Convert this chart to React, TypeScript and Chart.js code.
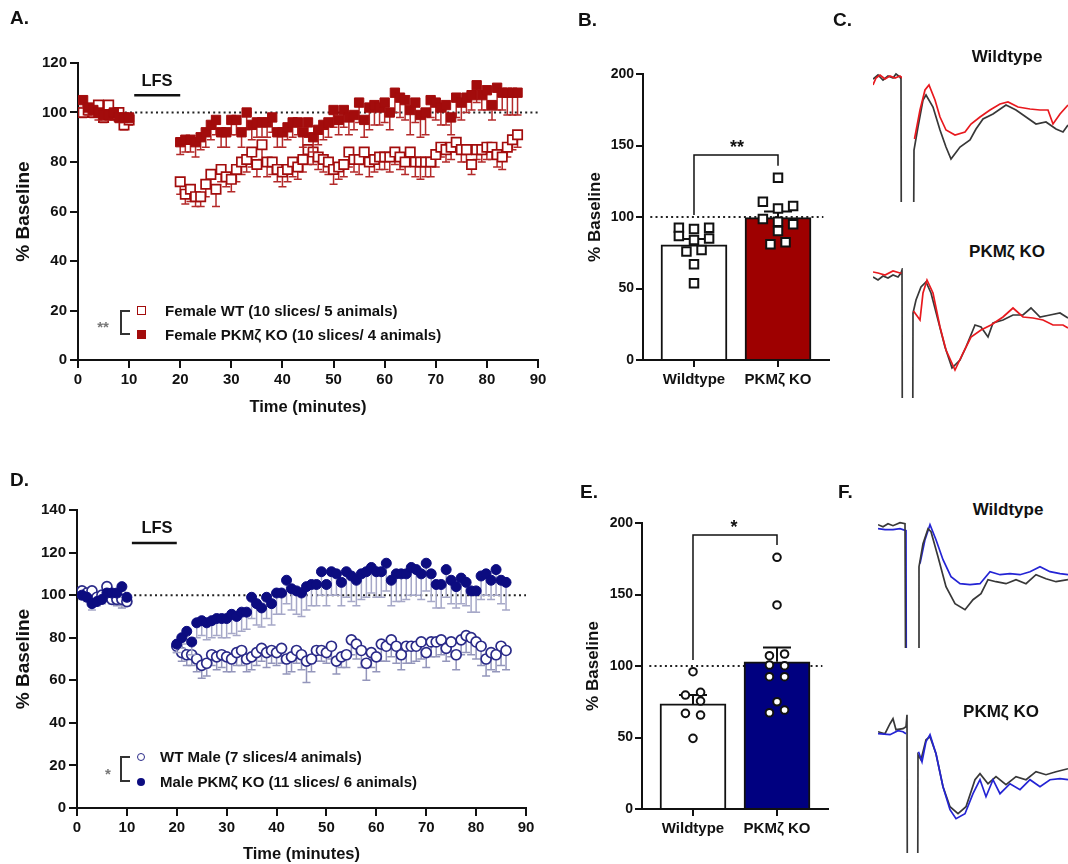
import React, { useEffect, useRef } from 'react';
import { Chart, registerables } from 'chart.js';

Chart.register(...registerables);

const FONT = '"Liberation Sans", Arial, Helvetica, sans-serif';
const INK = '#111111';
const RED = '#a30c0c';
const RED_ERR = '#b42a2a';
const RED_BAR = '#9e0000';
const NAVY = '#0c0c80';
const NAVY_OPEN = '#2a2a88';
const NAVY_BAR = '#000080';

// ---------------- Time-course data (panels A and D) ----------------
const minutes = [1, 2, 3, 4, 5, 6, 7, 8, 9, 10,
  20, 21, 22, 23, 24, 25, 26, 27, 28, 29, 30, 31, 32, 33, 34, 35, 36, 37, 38, 39,
  40, 41, 42, 43, 44, 45, 46, 47, 48, 49, 50, 51, 52, 53, 54, 55, 56, 57, 58, 59,
  60, 61, 62, 63, 64, 65, 66, 67, 68, 69, 70, 71, 72, 73, 74, 75, 76, 77, 78, 79,
  80, 81, 82, 83, 84, 85, 86];

const femaleWT = [100, 101, 100, 103, 98, 103, 99, 100, 95, 97,
  72, 67, 69, 66, 66, 71, 75, 69, 77, 74, 73, 77, 80, 81, 84, 79, 87, 80, 80, 77,
  76, 77, 80, 78, 81, 85, 84, 82, 81, 80, 77, 78, 79, 84, 81, 81, 84, 80, 81, 82,
  82, 82, 84, 82, 80, 84, 80, 80, 80, 80, 83, 86, 85, 86, 88, 85, 85, 79, 85, 85,
  86, 86, 83, 82, 86, 89, 91];
const femaleWTErr = [2, 2, 2, 2, 2, 2, 2, 2, 2, 2,
  5, 4, 5, 4, 4, 5, 5, 7, 5, 4, 5, 5, 5, 5, 6, 5, 6, 6, 5, 5,
  6, 5, 6, 5, 5, 6, 5, 5, 5, 5, 6, 5, 5, 6, 5, 6, 5, 6, 5, 5,
  5, 6, 5, 5, 5, 5, 6, 7, 6, 6, 5, 4, 5, 5, 4, 5, 5, 4, 4, 5,
  5, 5, 5, 5, 4, 4, 5];
const femaleKO = [105, 102, 101, 100, 99, 99, 100, 98, 98, 98,
  88, 89, 89, 88, 90, 92, 95, 97, 92, 92, 97, 97, 92, 100, 95, 96, 96, 96, 98, 92,
  92, 94, 96, 96, 92, 96, 90, 93, 95, 96, 101, 97, 101, 98, 99, 104, 97, 102, 103, 102,
  104, 100, 108, 106, 105, 101, 104, 99, 100, 105, 104, 102, 103, 98, 106, 104, 106, 107, 111, 107,
  109, 103, 110, 108, 108, 108, 108];
const femaleKOErr = [3, 3, 2, 3, 2, 2, 2, 2, 2, 2,
  5, 5, 5, 6, 5, 6, 6, 6, 6, 6, 6, 6, 6, 7, 6, 6, 6, 6, 6, 6,
  6, 5, 6, 5, 6, 6, 6, 6, 6, 6, 7, 6, 7, 7, 6, 8, 7, 9, 8, 7,
  8, 7, 8, 8, 8, 10, 8, 9, 9, 7, 7, 7, 8, 7, 8, 7, 6, 6, 7, 6,
  8, 6, 9, 7, 9, 9, 9];

const maleWT = [102, 101, 102, 99, 100, 104, 98, 98, 98, 97,
  76, 73, 72, 72, 70, 67, 68, 72, 71, 72, 71, 70, 73, 74, 70, 71, 73, 75, 73, 74,
  73, 75, 70, 71, 74, 72, 69, 70, 74, 74, 73, 76, 69, 71, 72, 79, 77, 74, 68, 73,
  71, 77, 76, 79, 76, 72, 76, 76, 76, 78, 73, 78, 78, 79, 75, 78, 72, 79, 81, 80,
  78, 76, 70, 73, 72, 76, 74];
const maleWTErr = [2, 2, 2, 2, 2, 2, 2, 3, 4, 2,
  3, 4, 5, 5, 6, 6, 6, 5, 6, 6, 7, 6, 6, 7, 6, 6, 6, 6, 7, 6,
  6, 7, 7, 7, 6, 7, 10, 6, 5, 5, 5, 6, 6, 5, 6, 7, 7, 8, 8, 7,
  7, 8, 7, 8, 8, 7, 8, 8, 7, 8, 7, 7, 7, 7, 6, 7, 7, 7, 8, 8,
  8, 9, 8, 8, 8, 9, 9];
const maleKO = [100, 99, 96, 97, 98, 101, 101, 101, 104, 99,
  77, 80, 83, 78, 87, 88, 87, 88, 89, 89, 89, 91, 90, 92, 92, 99, 96, 94, 99, 96,
  101, 101, 107, 103, 102, 101, 104, 105, 105, 111, 105, 111, 110, 106, 111, 109, 107, 110, 111, 113,
  111, 111, 115, 107, 110, 110, 110, 113, 112, 110, 115, 110, 105, 105, 112, 107, 104, 108, 106, 102,
  102, 109, 110, 107, 112, 107, 106];
const maleKOErr = [2, 2, 3, 2, 2, 2, 2, 2, 2, 2,
  4, 5, 6, 6, 7, 7, 8, 8, 8, 9, 9, 9, 9, 9, 8, 10, 10, 9, 10, 10,
  10, 10, 11, 10, 11, 11, 11, 10, 10, 11, 10, 11, 10, 11, 12, 12, 12, 12, 12, 12,
  12, 12, 13, 12, 13, 13, 12, 13, 12, 12, 13, 13, 11, 11, 13, 11, 10, 12, 11, 10,
  10, 11, 10, 9, 12, 11, 13];

const timeTicks = [0, 10, 20, 30, 40, 50, 60, 70, 80, 90];
const femaleYTicks = [0, 20, 40, 60, 80, 100, 120];
const maleYTicks = [0, 20, 40, 60, 80, 100, 120, 140];
const baselineLevel = 100;
const lfsSpan = [11, 20];
const lfsLevelFemale = 107;
const lfsLevelMale = 124.5;
const femaleLegend = ['Female WT (10 slices/ 5 animals)', 'Female PKMζ KO (10 slices/ 4 animals)'];
const maleLegend = ['WT Male (7 slices/4 animals)', 'Male PKMζ KO (11 slices/ 6 animals)'];

// ---------------- Bar summaries (panels B and E) ----------------
const barCategories = ['Wildtype', 'PKMζ KO'];
const barTicks = [0, 50, 100, 150, 200];
const femaleMeans = [80.5, 99.6];
const femaleSem = [4.2, 4.2];
const femaleWTPoints = [92.5, 91.6, 92.5, 86.7, 83.9, 85, 75.8, 76.9, 66.9, 53.6];
const femaleWTJitter = [-0.18, 0, 0.18, -0.18, 0, 0.18, -0.09, 0.09, 0, 0];
const femaleKOPoints = [127.5, 110.7, 106, 107.7, 98.6, 96.7, 94.9, 90.2, 80.9, 82.3];
const femaleKOJitter = [0, -0.18, 0, 0.18, -0.18, 0, 0.18, 0, -0.09, 0.09];
const femaleBracket = [101.4, 143.4, 135.9];

const maleMeans = [73.5, 102.9];
const maleSem = [6.2, 10.1];
const maleWTPoints = [96, 79.7, 81.6, 75.5, 66.9, 65.7, 49.4];
const maleWTJitter = [0, -0.09, 0.09, 0.09, -0.09, 0.09, 0];
const maleKOPoints = [176, 142.7, 107.2, 108.4, 100.7, 100.2, 92.5, 92.5, 67.3, 75, 69.2];
const maleKOJitter = [0, 0, -0.09, 0.09, -0.09, 0.09, -0.09, 0.09, -0.09, 0, 0.09];
const maleBracket = [104.2, 191.6, 184.6];
const barRefSpan = [-0.52, 1.54];

// ---------------- Example traces (panels C and F): [ms, mV]; null = off-scale stimulus artifact ----------------
const cWildtypeBaseline = [[0, -0.02], [0.5, 0.02], [1, -0.03], [1.5, 0.01], [2, -0.01], [2.3, 0.03], [2.7, 0], [2.8, -0.02], [2.9, -5], [3.9, -5], [4.1, -0.73], [4.5, -0.5], [5, -0.23], [5.3, -0.18], [6, -0.3], [6.7, -0.53], [7.3, -0.7], [7.8, -0.82], [8.7, -0.7], [9.7, -0.63], [10.3, -0.52], [11, -0.42], [12, -0.37], [13.3, -0.28], [14.3, -0.33], [15.3, -0.4], [16.3, -0.47], [17.3, -0.45], [18.3, -0.52], [19, -0.55], [19.5, -0.48]];
const cWildtypePost = [[0, -0.08], [0.3, -0.01], [0.7, 0.02], [1.2, -0.02], [1.7, 0.01], [2.2, -0.01], [2.7, 0.01], [2.8, 0], [3.4, null], [4.15, -0.62], [4.7, -0.33], [5.2, -0.13], [5.6, -0.08], [6.2, -0.23], [6.7, -0.4], [7.3, -0.53], [8.2, -0.58], [9.2, -0.55], [9.8, -0.47], [10.7, -0.4], [11.7, -0.33], [12.7, -0.27], [13.5, -0.25], [14.5, -0.3], [15.7, -0.32], [16.7, -0.33], [17.5, -0.33], [18, -0.47], [18.7, -0.37], [19.5, -0.28]];
const cKOBaseline = [[0, -0.02], [0.5, -0.05], [1, -0.01], [1.5, -0.03], [2, 0], [2.5, -0.02], [2.8, 0.02], [2.9, 0.05], [3, -5], [3.9, -5], [4, -0.38], [4.3, -0.25], [4.8, -0.12], [5.3, -0.07], [5.8, -0.18], [6.5, -0.45], [7.2, -0.72], [7.9, -0.93], [8.7, -0.85], [9.3, -0.72], [10.2, -0.5], [10.8, -0.52], [11.5, -0.62], [12, -0.48], [13, -0.45], [14, -0.4], [15, -0.4], [15.8, -0.33], [16.7, -0.42], [17.7, -0.4], [18.7, -0.38], [19.5, -0.43]];
const cKOPost = [[0, 0.03], [0.5, 0.02], [1.2, 0], [2, 0.04], [2.7, 0.02], [2.85, 0.02], [3.4, null], [4.05, -0.36], [4.7, -0.45], [5, -0.18], [5.4, -0.05], [6, -0.18], [6.7, -0.52], [7.3, -0.75], [8.2, -0.95], [9, -0.78], [9.8, -0.62], [10.8, -0.55], [11.8, -0.5], [13, -0.42], [14, -0.33], [15, -0.42], [16, -0.43], [17, -0.45], [18, -0.5], [19, -0.5], [19.5, -0.53]];
const fWildtypeBaseline = [[0, 0.02], [0.5, 0], [1, 0.03], [1.5, 0.01], [2.2, 0.04], [2.7, 0.03], [2.8, 0.03], [2.9, -5], [4, -5], [4.1, -0.4], [4.5, -0.17], [5, -0.02], [5.3, -0.05], [6, -0.3], [6.8, -0.6], [7.7, -0.77], [8.7, -0.83], [9.5, -0.73], [10.3, -0.67], [11, -0.53], [11.8, -0.55], [12.8, -0.57], [13.8, -0.53], [14.8, -0.57], [15.8, -0.48], [16.8, -0.52], [17.8, -0.55], [19, -0.53]];
const fWildtypePost = [[0, -0.02], [0.7, -0.03], [1.5, -0.03], [2.2, -0.02], [2.8, -0.04], [2.9, -5], [3.5, null], [4.2, -0.37], [4.7, -0.13], [5.2, 0.02], [5.8, -0.13], [6.5, -0.33], [7.3, -0.5], [8.2, -0.57], [9.2, -0.58], [10.2, -0.57], [11.2, -0.45], [12.2, -0.48], [13.2, -0.47], [14.2, -0.48], [15.2, -0.45], [16.2, -0.4], [17.2, -0.45], [18.2, -0.47], [19, -0.48]];
const fKOBaseline = [[0, 0], [0.7, -0.02], [1.2, 0.08], [1.5, 0.13], [1.8, 0.02], [2.5, 0.03], [2.8, 0.05], [2.9, 0.17], [3, -5], [3.9, -5], [4, -0.23], [4.3, -0.28], [4.8, -0.08], [5.2, -0.05], [5.8, -0.22], [6.5, -0.55], [7.2, -0.75], [8, -0.82], [8.8, -0.75], [9.7, -0.48], [10.2, -0.42], [11, -0.52], [11.8, -0.45], [12.8, -0.53], [13.8, -0.45], [14.8, -0.48], [15.8, -0.4], [16.8, -0.43], [17.8, -0.4], [19, -0.37]];
const fKOPost = [[0, -0.02], [1.2, -0.03], [2, 0.01], [2.5, 0], [2.8, -0.02], [3.4, null], [4.05, -0.2], [4.4, -0.3], [4.8, -0.1], [5.2, -0.03], [5.8, -0.22], [6.5, -0.55], [7.2, -0.78], [7.8, -0.87], [8.7, -0.82], [9.5, -0.62], [10.2, -0.48], [10.8, -0.65], [11.5, -0.48], [12.2, -0.62], [13.2, -0.52], [14.2, -0.58], [15.2, -0.48], [16.2, -0.55], [17.2, -0.48], [18.2, -0.47], [19, -0.48]];

// ---------------- helpers ----------------
type XY = { x: number; y: number | null };
const toXY = (xs: number[], ys: number[]): XY[] => xs.map((x, i) => ({ x, y: ys[i] }));
const jitterXY = (cat: number, jit: number[], ys: number[]): XY[] => ys.map((y, i) => ({ x: cat + jit[i], y }));
const pairs = (p: (number | null)[][]): XY[] => p.map(([x, y]) => ({ x: x as number, y }));
const bold = (size: number) => ({ family: FONT, size, weight: 'bold' as const });

function drawErr(chart: any, ds: any, dir: number) {
  const xs = chart.scales.x;
  const ys = chart.scales.y;
  const ctx = chart.ctx;
  const errs = dir < 0 ? ds.errDown : ds.errUp;
  ctx.save();
  ctx.strokeStyle = ds.errColor || INK;
  ctx.lineWidth = ds.errWidth || 1.5;
  ds.data.forEach((p: any, i: number) => {
    const px = xs.getPixelForValue(p.x);
    const y0 = ys.getPixelForValue(p.y);
    const y1 = ys.getPixelForValue(p.y + dir * errs[i]);
    ctx.beginPath();
    ctx.moveTo(px, y0);
    ctx.lineTo(px, y1);
    ctx.moveTo(px - ds.errCap, y1);
    ctx.lineTo(px + ds.errCap, y1);
    ctx.stroke();
  });
  ctx.restore();
}

const errorBarPlugin = {
  id: 'errorBars',
  beforeDatasetDraw(chart: any, args: any) {
    const ds = chart.data.datasets[args.index];
    if (ds.errDown) drawErr(chart, ds, -1);
  },
  afterDatasetDraw(chart: any, args: any) {
    const ds = chart.data.datasets[args.index];
    if (ds.errUp) drawErr(chart, ds, 1);
  },
};

const annotPlugin = {
  id: 'annot',
  afterDatasetsDraw(chart: any, _args: any, opts: any) {
    const xs = chart.scales.x;
    const ys = chart.scales.y;
    const ctx = chart.ctx;
    ctx.save();
    ctx.strokeStyle = INK;
    if (opts && opts.lfs) {
      ctx.lineWidth = 2.6;
      const yy = ys.getPixelForValue(opts.lfs.level);
      ctx.beginPath();
      ctx.moveTo(xs.getPixelForValue(opts.lfs.span[0]), yy);
      ctx.lineTo(xs.getPixelForValue(opts.lfs.span[1]), yy);
      ctx.stroke();
    }
    if (opts && opts.bracket) {
      const lv = opts.bracket.levels;
      const x0 = xs.getPixelForValue(0);
      const x1 = xs.getPixelForValue(1);
      ctx.lineWidth = 1.5;
      ctx.beginPath();
      ctx.moveTo(x0, ys.getPixelForValue(lv[0]));
      ctx.lineTo(x0, ys.getPixelForValue(lv[1]));
      ctx.lineTo(x1, ys.getPixelForValue(lv[1]));
      ctx.lineTo(x1, ys.getPixelForValue(lv[2]));
      ctx.stroke();
    }
    ctx.restore();
  },
};

const axisGrid = { drawOnChartArea: false, drawTicks: true, color: INK, lineWidth: 2, offset: false };
const axisBorder = { display: true, color: INK, width: 2 };

function refLine(x0: number, x1: number, order: number) {
  return {
    type: 'line',
    data: [{ x: x0, y: baselineLevel }, { x: x1, y: baselineLevel }],
    borderColor: '#222',
    borderWidth: 2,
    borderDash: [2, 3.2],
    pointRadius: 0,
    order,
  };
}

function timeCourseConfig(p: any) {
  return {
    type: 'scatter',
    data: {
      datasets: [
        {
          label: p.labels[1], data: toXY(minutes, p.ko), errDown: p.koErr, errColor: p.koErrColor, errCap: 4, errWidth: 1.5,
          pointStyle: p.style, pointRadius: p.radius, backgroundColor: p.color, borderColor: p.color, borderWidth: 1, order: 0,
        },
        {
          label: p.labels[0], data: toXY(minutes, p.wt), errDown: p.wtErr, errColor: p.wtErrColor, errCap: 4, errWidth: 1.5,
          pointStyle: p.style, pointRadius: p.radius, backgroundColor: '#ffffff', borderColor: p.openColor, borderWidth: 1.7, order: 1,
        },
        refLine(0, 90, 5),
      ],
    },
    plugins: [errorBarPlugin, annotPlugin],
    options: {
      responsive: false, animation: false, devicePixelRatio: 1, events: [],
      layout: { padding: { left: 0, right: p.padRight, top: p.padTop, bottom: 0 } },
      plugins: { legend: { display: false }, tooltip: { enabled: false }, annot: { lfs: { span: lfsSpan, level: p.lfsLevel } } },
      scales: {
        x: {
          type: 'linear', min: 0, max: 90, offset: false,
          afterBuildTicks: (s: any) => { s.ticks = timeTicks.map((v) => ({ value: v })); },
          ticks: { font: bold(15), color: INK, padding: 3, autoSkip: false, maxRotation: 0 },
          grid: { ...axisGrid, tickLength: 8 }, border: axisBorder,
          title: { display: true, text: 'Time (minutes)', font: bold(16.5), color: INK, padding: { top: 0, bottom: p.xTitlePad } },
          afterFit: (s: any) => { s.height = p.xHeight; },
        },
        y: {
          type: 'linear', min: 0, max: p.yMax,
          afterBuildTicks: (s: any) => { s.ticks = p.yTicks.map((v: number) => ({ value: v })); },
          ticks: { font: bold(15), color: INK, padding: 3, autoSkip: false },
          grid: { ...axisGrid, tickLength: 8 }, border: axisBorder,
          title: { display: true, text: '% Baseline', font: bold(19), color: INK, padding: { top: 12.5, bottom: 0 } },
          afterFit: (s: any) => { s.width = p.yWidth; },
        },
      },
    },
  };
}

function barConfig(p: any) {
  return {
    type: 'bar',
    data: {
      datasets: [
        {
          type: 'bar', data: toXY([0, 1], p.means), backgroundColor: ['#ffffff', p.fill], borderColor: INK, borderWidth: 2,
          barThickness: 66, errUp: p.sem, errCap: 14, errWidth: 2, errColor: INK, order: 2,
        },
        {
          type: 'scatter', data: jitterXY(0, p.wtJit, p.wtPts), pointStyle: p.style, pointRadius: p.radius,
          backgroundColor: '#ffffff', borderColor: INK, borderWidth: 2, order: 0,
        },
        {
          type: 'scatter', data: jitterXY(1, p.koJit, p.koPts), pointStyle: p.style, pointRadius: p.radius,
          backgroundColor: '#ffffff', borderColor: INK, borderWidth: 2, order: 0,
        },
        refLine(barRefSpan[0], barRefSpan[1], p.refOrder),
      ],
    },
    plugins: [errorBarPlugin, annotPlugin],
    options: {
      responsive: false, animation: false, devicePixelRatio: 1, events: [],
      layout: { padding: { left: 0, right: p.padRight, top: p.padTop, bottom: 0 } },
      plugins: { legend: { display: false }, tooltip: { enabled: false }, annot: { bracket: { levels: p.bracket } } },
      scales: {
        x: {
          type: 'linear', min: -0.607, max: 1.607, offset: false,
          afterBuildTicks: (s: any) => { s.ticks = [{ value: 0 }, { value: 1 }]; },
          ticks: { font: bold(15), color: INK, padding: 4, autoSkip: false, maxRotation: 0, callback: (_v: any, i: number) => barCategories[i] },
          grid: { ...axisGrid, tickLength: 7 }, border: axisBorder,
          afterFit: (s: any) => { s.height = p.xHeight; },
        },
        y: {
          type: 'linear', min: 0, max: 200,
          afterBuildTicks: (s: any) => { s.ticks = barTicks.map((v) => ({ value: v })); },
          ticks: { font: bold(14), color: INK, padding: 2, autoSkip: false },
          grid: { ...axisGrid, tickLength: 7 }, border: axisBorder,
          title: { display: true, text: '% Baseline', font: bold(17), color: INK, padding: { top: p.yTitlePad, bottom: 0 } },
          afterFit: (s: any) => { s.width = p.yWidth; },
        },
      },
    },
  };
}

function traceConfig(series: { pts: (number | null)[][]; color: string; label: string }[], xMax: number, yMin: number, yMax: number) {
  return {
    type: 'line',
    data: {
      datasets: series.map((s) => ({
        label: s.label, data: pairs(s.pts), borderColor: s.color, borderWidth: 1.7, pointRadius: 0, tension: 0, spanGaps: false,
      })),
    },
    options: {
      responsive: false, animation: false, devicePixelRatio: 1, events: [],
      layout: { padding: 0 },
      plugins: { legend: { display: false }, tooltip: { enabled: false } },
      scales: {
        x: { type: 'linear', min: 0, max: xMax, display: false },
        y: { type: 'linear', min: yMin, max: yMax, display: false },
      },
    },
  };
}

function ChartBox({ left, top, width, height, make }: any) {
  const ref = useRef<HTMLCanvasElement>(null);
  useEffect(() => {
    const chart = new Chart(ref.current as HTMLCanvasElement, make());
    return () => chart.destroy();
  }, []);
  return <canvas ref={ref} width={width} height={height} style={{ position: 'absolute', left, top, width, height }} />;
}

function T({ x, y, size, children, anchor = 'middle', color = INK }: any) {
  return (
    <div
      style={{
        position: 'absolute', left: x, top: y, transform: anchor === 'middle' ? 'translate(-50%, -50%)' : 'translate(0, -50%)',
        fontFamily: FONT, fontWeight: 700, fontSize: size, lineHeight: 1.2, color, whiteSpace: 'nowrap',
      }}
    >
      {children}
    </div>
  );
}

function Box({ x, y, w, h, style }: any) {
  return <div style={{ position: 'absolute', left: x, top: y, width: w, height: h, boxSizing: 'border-box', ...style }} />;
}

export default function App() {
  return (
    <div style={{ position: 'absolute', left: 0, top: 0, width: 1068, height: 864, background: '#ffffff', overflow: 'hidden' }}>
      {/* Panel A */}
      <ChartBox left={0} top={0} width={560} height={430} make={() => timeCourseConfig({
        wt: femaleWT, wtErr: femaleWTErr, ko: femaleKO, koErr: femaleKOErr, labels: femaleLegend,
        color: RED, openColor: RED, koErrColor: RED_ERR, wtErrColor: RED_ERR, style: 'rect', radius: 6.6,
        padRight: 22, padTop: 63, xHeight: 70, xTitlePad: 13, yWidth: 78, yMax: 120, yTicks: femaleYTicks, lfsLevel: lfsLevelFemale,
      })} />
      {/* Panel D */}
      <ChartBox left={0} top={440} width={560} height={424} make={() => timeCourseConfig({
        wt: maleWT, wtErr: maleWTErr, ko: maleKO, koErr: maleKOErr, labels: maleLegend,
        color: NAVY, openColor: NAVY_OPEN, koErrColor: '#a6a8c8', wtErrColor: '#9496bb', style: 'circle', radius: 5,
        padRight: 34, padTop: 70, xHeight: 56, xTitlePad: 0, yWidth: 77, yMax: 140, yTicks: maleYTicks, lfsLevel: lfsLevelMale,
      })} />
      {/* Panel B */}
      <ChartBox left={560} top={0} width={290} height={420} make={() => barConfig({
        means: femaleMeans, sem: femaleSem, fill: RED_BAR, wtPts: femaleWTPoints, wtJit: femaleWTJitter,
        koPts: femaleKOPoints, koJit: femaleKOJitter, style: 'rect', radius: 6, bracket: femaleBracket, refOrder: 1,
        padRight: 21, padTop: 74, xHeight: 60, yWidth: 83, yTitlePad: 25,
      })} />
      {/* Panel E */}
      <ChartBox left={560} top={440} width={290} height={424} make={() => barConfig({
        means: maleMeans, sem: maleSem, fill: NAVY_BAR, wtPts: maleWTPoints, wtJit: maleWTJitter,
        koPts: maleKOPoints, koJit: maleKOJitter, style: 'circle', radius: 3.8, bracket: maleBracket, refOrder: 3,
        padRight: 22, padTop: 83, xHeight: 55, yWidth: 82, yTitlePad: 23,
      })} />
      {/* Panel C traces */}
      <ChartBox left={873} top={65} width={195} height={137} make={() => traceConfig([
        { pts: cWildtypePost, color: '#e8191e', label: 'Wildtype post-LFS' },
        { pts: cWildtypeBaseline, color: '#383838', label: 'Wildtype baseline' },
      ], 19.5, -1.25, 0.12)} />
      <ChartBox left={873} top={268} width={195} height={130} make={() => traceConfig([
        { pts: cKOPost, color: '#e8191e', label: 'PKMζ KO post-LFS' },
        { pts: cKOBaseline, color: '#383838', label: 'PKMζ KO baseline' },
      ], 19.5, -1.23, 0.07)} />
      {/* Panel F traces */}
      <ChartBox left={878} top={520} width={190} height={128} make={() => traceConfig([
        { pts: fWildtypeBaseline, color: '#383838', label: 'Wildtype baseline' },
        { pts: fWildtypePost, color: '#2424d4', label: 'Wildtype post-LFS' },
      ], 19.0, -1.213, 0.067)} />
      <ChartBox left={878} top={713} width={190} height={140} make={() => traceConfig([
        { pts: fKOPost, color: '#2424d4', label: 'PKMζ KO post-LFS' },
        { pts: fKOBaseline, color: '#383838', label: 'PKMζ KO baseline' },
      ], 19.0, -1.213, 0.187)} />

      {/* Panel letters */}
      <T x={10} y={18} size={19} anchor="start">A.</T>
      <T x={578} y={20} size={19} anchor="start">B.</T>
      <T x={833} y={20} size={19} anchor="start">C.</T>
      <T x={10} y={480} size={19} anchor="start">D.</T>
      <T x={580} y={492} size={19} anchor="start">E.</T>
      <T x={838} y={492} size={19} anchor="start">F.</T>

      {/* LFS labels */}
      <T x={157} y={81} size={16.5}>LFS</T>
      <T x={157} y={528} size={16.5}>LFS</T>

      {/* Legend A */}
      <Box x={137} y={306} w={9} h={9} style={{ border: `1.6px solid ${RED}`, background: '#fff' }} />
      <T x={165} y={311} size={15} anchor="start">{femaleLegend[0]}</T>
      <Box x={137} y={330} w={9} h={9} style={{ background: RED }} />
      <T x={165} y={335} size={15} anchor="start">{femaleLegend[1]}</T>
      <Box x={120} y={310} w={10} h={25} style={{ borderLeft: '2px solid #333', borderTop: '2px solid #333', borderBottom: '2px solid #333' }} />
      <T x={103} y={327} size={15} color="#777">**</T>

      {/* Legend D */}
      <Box x={137} y={753} w={8} h={8} style={{ border: `1.5px solid ${NAVY_OPEN}`, borderRadius: '50%', background: '#fff' }} />
      <T x={160} y={757} size={15} anchor="start">{maleLegend[0]}</T>
      <Box x={137} y={778} w={8} h={8} style={{ background: NAVY, borderRadius: '50%' }} />
      <T x={160} y={782} size={15} anchor="start">{maleLegend[1]}</T>
      <Box x={120} y={756} w={10} h={26} style={{ borderLeft: '2px solid #333', borderTop: '2px solid #333', borderBottom: '2px solid #333' }} />
      <T x={108} y={774} size={15} color="#777">*</T>

      {/* Significance marks */}
      <T x={737} y={148} size={18}>**</T>
      <T x={734} y={528} size={18}>*</T>

      {/* Trace titles */}
      <T x={1007} y={57} size={17}>Wildtype</T>
      <T x={1007} y={252} size={17}>PKMζ KO</T>
      <T x={1008} y={510} size={17}>Wildtype</T>
      <T x={1001} y={712} size={17}>PKMζ KO</T>
    </div>
  );
}
